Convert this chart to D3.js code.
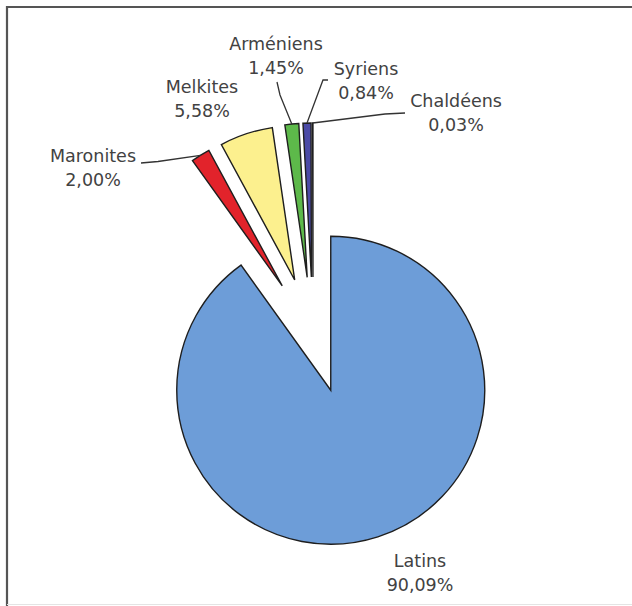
<!DOCTYPE html>
<html>
<head>
<meta charset="utf-8">
<script src="https://cdn.jsdelivr.net/npm/d3@7"></script>
<style>
  html, body { margin: 0; padding: 0; background: #fff; }
  svg { display: block; }
  text { font-family: "DejaVu Sans", Verdana, sans-serif; fill: #424242; }
</style>
</head>
<body>
<svg id="chart" width="632" height="606"></svg>
<script>
// Répartition des catholiques par rite (%)
const categories = ["Latins", "Maronites", "Melkites", "Arméniens", "Syriens", "Chaldéens"];
const shares = [90.09, 2.00, 5.58, 1.45, 0.84, 0.03];
const colors = ["#6d9dd8", "#e2232b", "#fcf08e", "#5db94a", "#4b4aa6", "#4b4aa6"];

const svg = d3.select("#chart");
const W = 632, H = 606;

// frame
svg.append("path")
  .attr("d", `M7,${H + 2} V7 H${W + 2}`)
  .attr("fill", "none").attr("stroke", "#555").attr("stroke-width", 2.2);
svg.append("line")
  .attr("x1", 7).attr("x2", W).attr("y1", 604.5).attr("y2", 604.5)
  .attr("stroke", "#e4e4e4").attr("stroke-width", 1);

const cx = 313, cy = 335, R = 154, explode = 58;
const fmt = v => d3.format(".2f")(v).replace(".", ",") + "%";

const pie = d3.pie().sort(null).value(d => d.v).startAngle(0).endAngle(2 * Math.PI);
const data = categories.map((c, i) => ({ name: c, v: shares[i], color: colors[i] }));
const arcs = pie(data);
const arc = d3.arc().innerRadius(0).outerRadius(R);

const g = svg.append("g").attr("transform", `translate(${cx},${cy})`);

function dir(a) { return [Math.sin(a), -Math.cos(a)]; }

arcs.forEach(d => {
  const mid = (d.startAngle + d.endAngle) / 2;
  const [dx, dy] = dir(mid);
  g.append("path")
    .attr("d", arc(d))
    .attr("transform", `translate(${dx * explode},${dy * explode})`)
    .attr("fill", d.data.color)
    .attr("stroke", "#1e1e1e")
    .attr("stroke-width", 1.4)
    .attr("stroke-linejoin", "miter");
});

// outer-edge point of a slice (for leader lines)
function edgePoint(i) {
  const d = arcs[i];
  const mid = (d.startAngle + d.endAngle) / 2;
  const [dx, dy] = dir(mid);
  return [cx + dx * (explode + R), cy + dy * (explode + R)];
}

// labels: [category index, center x, first baseline]
const labelPos = [
  [0, 420, 567],
  [1, 93, 162],
  [2, 202, 93],
  [3, 276, 50],
  [4, 366, 75],
  [5, 456, 107]
];

labelPos.forEach(([i, x, y]) => {
  const t = svg.append("text").attr("text-anchor", "middle").style("font-size", "17.5px");
  t.append("tspan").attr("x", x).attr("y", y).text(categories[i]);
  t.append("tspan").attr("x", x).attr("y", y + 23.5).text(fmt(shares[i]));
});

// leader lines: label-side points, ending at the slice edge
const leaders = [
  [1, [[141, 163], [158, 161.5]]],
  [3, [[277, 82], [280, 95]]],
  [4, [[323, 80], [328, 80]].reverse()],
  [5, [[405, 113], [385, 114]]]
];
leaders.forEach(([i, pts]) => {
  const p = pts.concat([edgePoint(i)]);
  svg.append("path")
    .attr("d", d3.line()(p))
    .attr("fill", "none").attr("stroke", "#333").attr("stroke-width", 1.3);
});
</script>
</body>
</html>
